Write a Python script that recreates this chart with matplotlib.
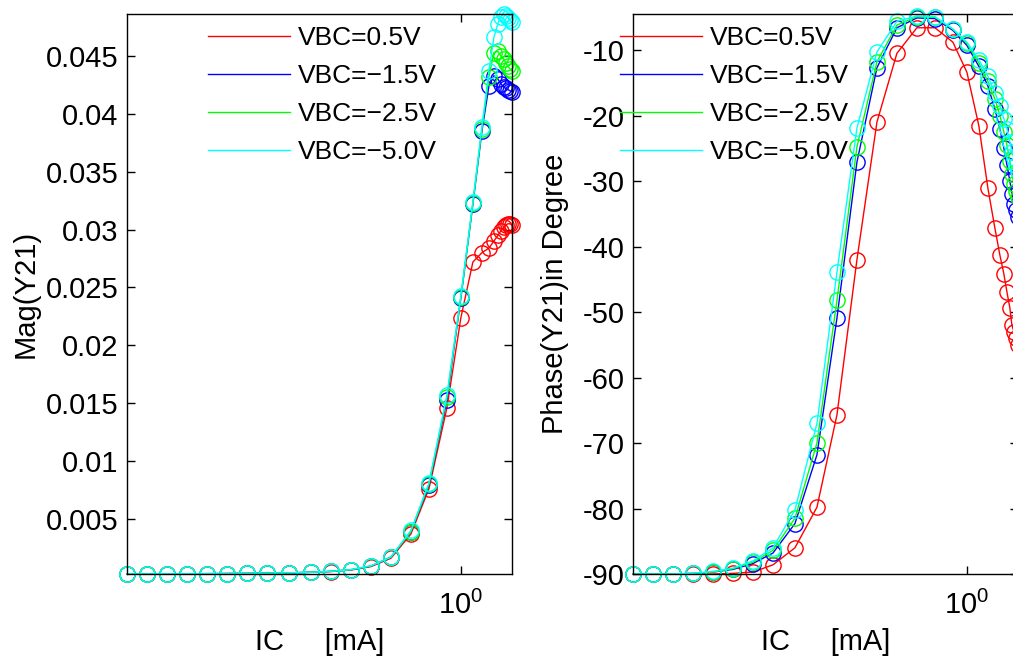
import numpy as np
import matplotlib
matplotlib.use("Agg")
import matplotlib.pyplot as plt
from matplotlib.ticker import NullLocator, FixedLocator

plt.rcParams['font.family'] = ['Liberation Sans', 'DejaVu Sans']
plt.rcParams['axes.unicode_minus'] = False   # MATLAB style short dash on ticks

# ── data (IC in mA) ────────────────────────────────────────
ic = [0.1462, 0.1641, 0.1841, 0.2065, 0.2317, 0.2600, 0.2917, 0.3273,
      0.3715, 0.4217, 0.4732, 0.5309, 0.5957, 0.6683, 0.7499, 0.8318,
      0.9226, 1.0000, 1.0715, 1.1285, 1.1749, 1.2090, 1.2373, 1.2589,
      1.2808, 1.2957, 1.3107, 1.3260, 1.3421]

labels = ["VBC=0.5V", "VBC=\u22121.5V", "VBC=\u22122.5V", "VBC=\u22125.0V"]
colors = ["#ff0000", "#0000ff", "#00ff00", "#00ffff"]

mag_05 = [0.00025, 0.00025, 0.00026, 0.00026, 0.00027, 0.00028, 0.00029, 0.00031,
          0.00033, 0.00038, 0.00045, 0.00058, 0.00088, 0.0016, 0.0037, 0.0076,
          0.0146, 0.0224, 0.0272, 0.0280, 0.0284, 0.0290, 0.0295, 0.0299,
          0.0302, 0.0304, 0.0305, 0.0305, 0.0304]
mag_15 = [0.00025, 0.00025, 0.00026, 0.00026, 0.00027, 0.00028, 0.00029, 0.00031,
          0.00034, 0.00039, 0.00047, 0.00061, 0.00092, 0.0017, 0.0039, 0.0079,
          0.0153, 0.0241, 0.0322, 0.0385, 0.0424, 0.0433, 0.0430, 0.0426,
          0.0423, 0.0422, 0.0421, 0.0420, 0.0419]
mag_25 = [0.00025, 0.00025, 0.00026, 0.00026, 0.00027, 0.00028, 0.00029, 0.00031,
          0.00034, 0.00039, 0.00047, 0.00061, 0.00093, 0.0017, 0.0039, 0.0080,
          0.0155, 0.0242, 0.0323, 0.0387, 0.0432, 0.0453, 0.0454, 0.0450,
          0.0447, 0.0444, 0.0441, 0.0439, 0.0437]
mag_50 = [0.00025, 0.00025, 0.00026, 0.00026, 0.00027, 0.00028, 0.00029, 0.00031,
          0.00034, 0.00039, 0.00047, 0.00062, 0.00095, 0.0017, 0.0040, 0.0081,
          0.0157, 0.0243, 0.0324, 0.0389, 0.0437, 0.0466, 0.0478, 0.0484,
          0.0486, 0.0485, 0.0483, 0.0481, 0.0479]

ph_05 = [-90.0, -90.0, -90.0, -90.0, -90.0, -89.9, -89.7, -88.6,
         -86.0, -79.8, -65.7, -42.0, -21.0, -10.5, -6.6, -6.6,
         -8.8, -13.4, -21.6, -31.1, -37.2, -41.3, -44.2, -46.9,
         -49.4, -52.0, -53.0, -54.0, -55.0]
ph_15 = [-90.0, -90.0, -90.0, -89.9, -89.7, -89.3, -88.4, -86.8,
         -82.3, -71.8, -50.9, -27.1, -12.7, -6.6, -5.1, -5.2,
         -7.0, -9.3, -12.5, -15.5, -19.0, -22.0, -25.0, -27.5,
         -30.0, -32.0, -33.5, -34.5, -35.5]
ph_25 = [-90.0, -90.0, -90.0, -89.9, -89.7, -89.2, -88.2, -86.4,
         -81.5, -70.0, -48.2, -24.8, -11.8, -6.2, -4.9, -5.0,
         -6.8, -9.0, -12.0, -14.8, -17.5, -20.0, -22.5, -24.5,
         -27.0, -29.0, -30.5, -31.5, -32.5]
ph_50 = [-90.0, -90.0, -90.0, -89.9, -89.6, -89.1, -88.0, -86.0,
         -80.2, -67.0, -43.9, -21.9, -10.3, -5.6, -4.8, -4.9,
         -6.8, -8.8, -11.5, -14.0, -16.5, -18.5, -20.5, -22.0,
         -24.0, -25.5, -26.5, -27.5, -28.5]

FS = 21      # axes text
LFS = 19     # legend text
W, H = 1013, 656


def style_axes(ax):
    ax.set_xscale("log")
    ax.set_xlim(ic[0], ic[-1])
    ax.xaxis.set_minor_locator(NullLocator())
    ax.tick_params(direction="in", top=True, right=True, length=6,
                   width=1.0, labelsize=FS)
    ax.tick_params(axis="x", pad=12)
    ax.tick_params(axis="y", pad=6)
    for s in ax.spines.values():
        s.set_linewidth(1.0)
    ax.set_xlabel("IC     [mA]", fontsize=FS, labelpad=6)


def draw(ax, ys):
    for y, c, lab in zip(ys, colors, labels):
        ax.plot(ic, y, "-", color=c, lw=1.0, label=lab, clip_on=False)
        ax.plot(ic, y, "o", color=c, mfc="none", ms=11, mew=1.0,
                clip_on=False, label="_nolegend_")


def add_legend(ax, x0):
    ax.legend(loc="upper left", bbox_to_anchor=(x0 / W, 1 - 26 / H),
              bbox_transform=fig.transFigure, frameon=False, fontsize=LFS,
              handlelength=3.1, handletextpad=0.3, labelspacing=0.53,
              borderpad=0, borderaxespad=0)


fig = plt.figure(figsize=(W / 100, H / 100), dpi=100)

# ── 左图：幅值 ──
ax1 = fig.add_axes([127 / W, 82 / H, 385 / W, 560 / H])
draw(ax1, [mag_05, mag_15, mag_25, mag_50])
style_axes(ax1)
ax1.set_ylim(0.00024, 0.04863)
yt = [0.005, 0.01, 0.015, 0.02, 0.025, 0.03, 0.035, 0.04, 0.045]
ax1.yaxis.set_major_locator(FixedLocator(yt))
ax1.set_yticklabels([f"{v:g}" for v in yt])
ax1.set_ylabel("Mag(Y21)", fontsize=FS)
ax1.yaxis.set_label_coords(-0.226, 0.5)
add_legend(ax1, 208)

# ── 右图：相位 ──
ax2 = fig.add_axes([633 / W, 82 / H, 385 / W, 560 / H])
draw(ax2, [ph_05, ph_15, ph_25, ph_50])
style_axes(ax2)
ax2.set_ylim(-90, -4.5)
ax2.yaxis.set_major_locator(FixedLocator(np.arange(-90, -5, 10)))
ax2.set_ylabel("Phase(Y21)in Degree", fontsize=FS)
ax2.yaxis.set_label_coords(-0.165, 0.5)
add_legend(ax2, 620)

fig.savefig("out.png", dpi=100)
